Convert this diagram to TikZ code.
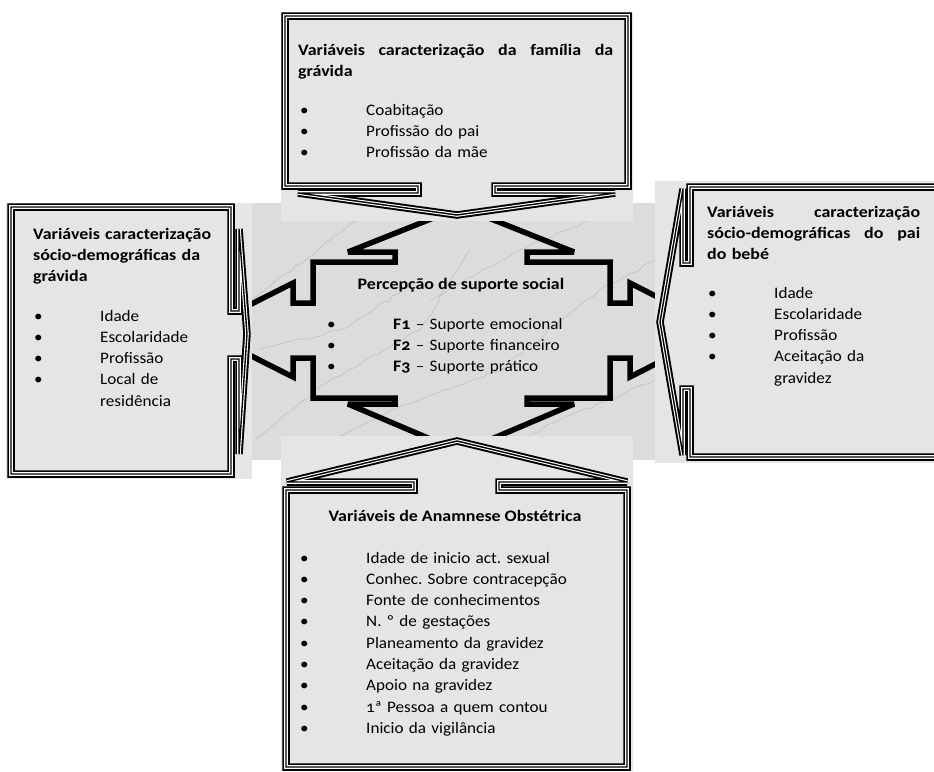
\documentclass[tikz,border=0pt]{standalone}
\usepackage{fontspec}
\setmainfont{Carlito}[Numbers=OldStyle,FakeStretch=1.07,BoldFeatures={FakeStretch=1.12}]
\usepackage{tikz}
\usetikzlibrary{decorations.pathmorphing}

\definecolor{granite}{RGB}{229,229,229}
\definecolor{marble}{RGB}{220,220,223}

\newcommand{\itm}[1]{\makebox[66pt][l]{\textbullet}#1}
\newcommand{\cont}[1]{\hspace*{66pt}#1}
\frenchspacing

\begin{document}
\begin{tikzpicture}[x=1pt,y=-1pt,
	frame/.style={draw=white,line width=3.6pt,miter limit=3,preaction={draw=black,line width=7.5pt,miter limit=3},postaction={draw=black,line width=1.4pt}},
	quad/.style={draw=black,line width=5.5pt,miter limit=3},
	vein/.style={draw=gray!70,line width=0.7pt,opacity=0.45,decorate,decoration={random steps,segment length=7pt,amplitude=1.5pt}},
	txt/.style={anchor=base west,inner sep=0pt,align=left,font=\fontsize{16}{21.3}\selectfont},
	hd/.style={txt,font=\bfseries\fontsize{16}{21.3}\selectfont}]

	\useasboundingbox (0,0) rectangle (934,771);
	\clip (0,0) rectangle (934,771);
	\fill[white] (0,0) rectangle (934,771);

	% centre: support callout
	\fill[marble] (251,203) rectangle (656,460);
	\draw[vein] (255,440) -- (330,380) -- (420,330) -- (470,250);
	\draw[vein] (300,460) -- (390,410) -- (500,370) -- (600,290) -- (656,260);
	\draw[vein] (252,300) -- (330,240) -- (380,205);
	\draw[vein] (480,460) -- (560,420) -- (656,380);
	\draw[vein] (430,300) -- (520,250) -- (600,215);
	\draw[vein] (260,350) -- (340,330) -- (420,280);
	\draw[quad] (461,207) -- (574,252) -- (527,252) -- (527,262) -- (610,262) -- (610,303) -- (630,303) -- (630,283)
		-- (722,330) -- (630,377) -- (630,358) -- (610,358) -- (610,398) -- (527,398) -- (527,404) -- (574,404)
		-- (461,452) -- (348,404) -- (395,404) -- (395,398) -- (313,398) -- (313,358) -- (293,358) -- (293,377)
		-- (200,330) -- (293,283) -- (293,303) -- (313,303) -- (313,262) -- (395,262) -- (395,252) -- (348,252) -- cycle;

	% the four boxes
	\fill[granite] (281,12) rectangle (633,221);
	\fill[granite] (6,203) rectangle (252,479);
	\fill[granite] (655,181) rectangle (934,463);
	\fill[granite] (281,436) rectangle (633,771);

	\draw[frame] (285,16) -- (628,16) -- (628,186) -- (495,186) -- (495,193) -- (615,193) -- (457,215)
		-- (298,193) -- (418,193) -- (418,186) -- (285,186) -- cycle;
	\draw[frame] (11,207) -- (231,207) -- (231,311) -- (239,311) -- (239,229) -- (247,334) -- (239,454)
		-- (239,359) -- (231,359) -- (231,474) -- (11,474) -- cycle;
	\draw[frame] (945,187) -- (690,187) -- (690,263) -- (683,263) -- (683,189) -- (660,322) -- (683,455)
		-- (683,389) -- (690,389) -- (690,457) -- (945,457);
	\draw[frame] (286,767) -- (286,490) -- (414,490) -- (414,482) -- (287,482) -- (457,441) -- (627,482)
		-- (499,482) -- (499,490) -- (627,490) -- (627,767) -- cycle;

	% texts
	\node[hd,text width=316pt] (famtitle) at (298,55) {\makebox[315pt][l]{Variáveis\hfill caracterização\hfill da\hfill família\hfill da}\\grávida};
	\node[txt,text width=300pt] (famlist) at (300,115) {\itm{Coabitação}\\\itm{Profissão do pai}\\\itm{Profissão da mãe}};

	\node[hd,text width=215pt] (gravtitle) at (33,239) {Variáveis caracterização\\sócio-demográficas da\\grávida};
	\node[txt,text width=200pt] (gravlist) at (34,321) {\itm{Idade}\\\itm{Escolaridade}\\\itm{Profissão}\\\itm{Local de}\\\cont{residência}};

	\node[hd,text width=214pt] (paititle) at (707,217) {\makebox[213pt][l]{Variáveis\hfill caracterização}\\\makebox[213pt][l]{sócio-demográficas\hfill do\hfill pai}\\do bebé};
	\node[txt,text width=200pt] (pailist) at (708,298) {\itm{Idade}\\\itm{Escolaridade}\\\itm{Profissão}\\\itm{Aceitação da}\\\cont{gravidez}};

	\node[hd,anchor=base] (suptitle) at (461,289) {Percepção de suporte social};
	\node[txt,text width=270pt] (suplist) at (327,329) {\itm{\textbf{F1} – Suporte emocional}\\\itm{\textbf{F2} – Suporte financeiro}\\\itm{\textbf{F3} – Suporte prático}};

	\node[hd,anchor=base] (obsttitle) at (455,521) {Variáveis de Anamnese Obstétrica};
	\node[txt,text width=300pt] (obstlist) at (300,563) {\itm{Idade de inicio act. sexual}\\\itm{Conhec. Sobre contracepção}\\\itm{Fonte de conhecimentos}\\\itm{N. º de gestações}\\\itm{Planeamento da gravidez}\\\itm{Aceitação da gravidez}\\\itm{Apoio na gravidez}\\\itm{1ª Pessoa a quem contou}\\\itm{Inicio da vigilância}};
\end{tikzpicture}
\end{document}
